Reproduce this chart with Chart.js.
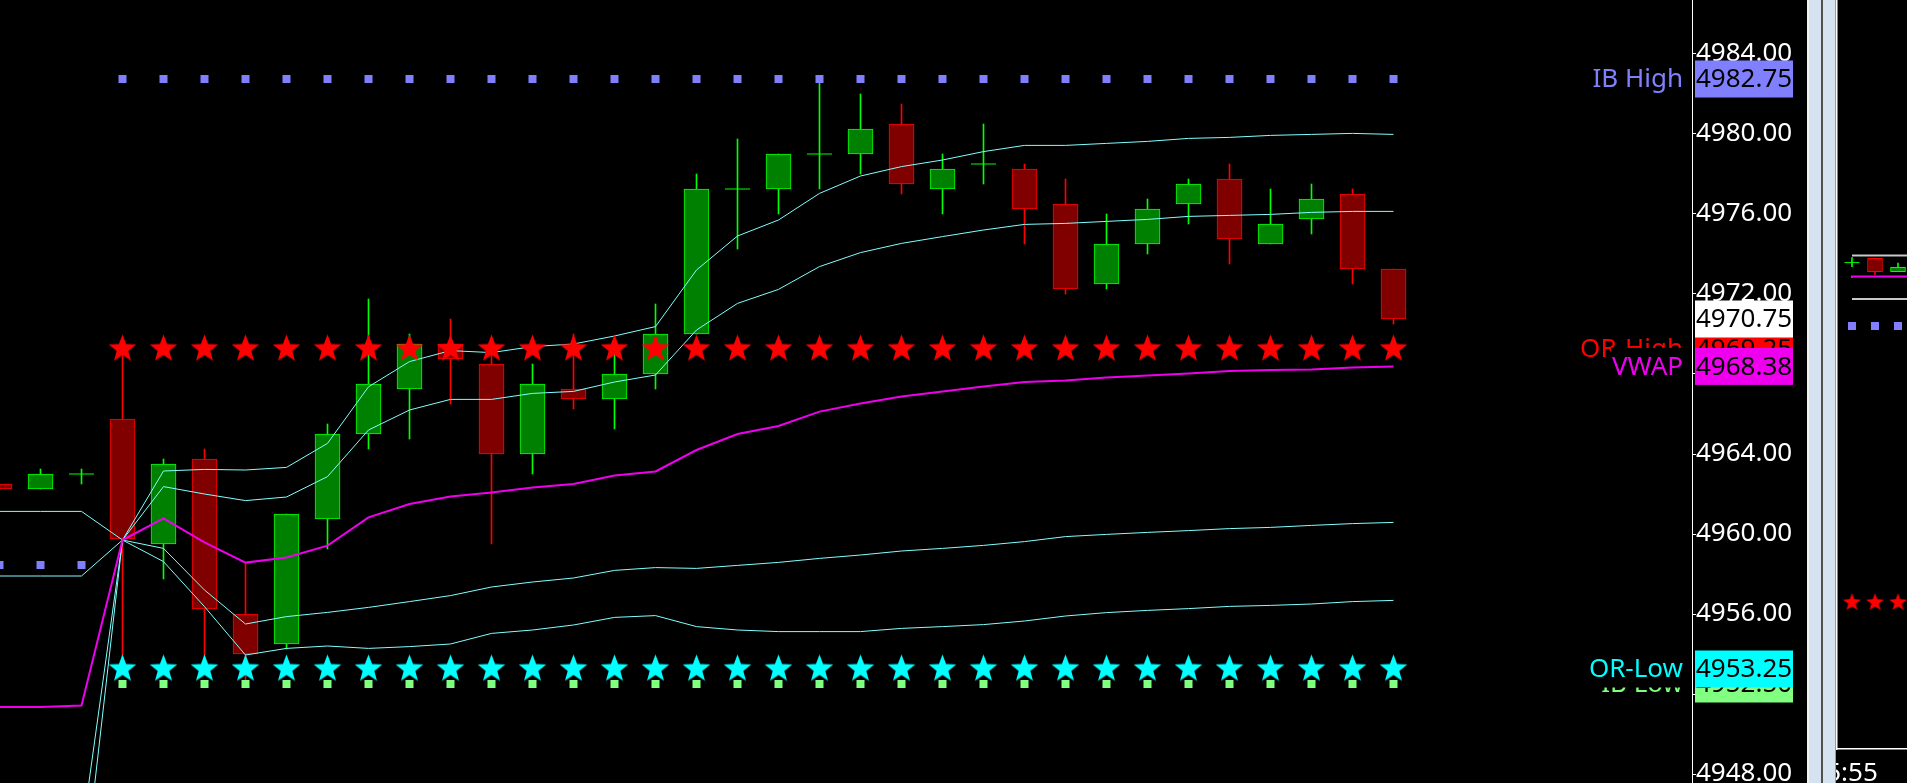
<!DOCTYPE html>
<html>
<head>
<meta charset="utf-8">
<script src="https://cdn.jsdelivr.net/npm/chart.js@4.4.1/dist/chart.umd.min.js"></script>
<style>
html,body{margin:0;padding:0;background:#000;overflow:hidden;width:1907px;height:783px}
#main{position:absolute;left:0;top:0;width:1807px;height:783px}
#mini{position:absolute;left:1836px;top:0;width:71px;height:783px}
.sb{position:absolute;top:0;height:783px}
</style>
</head>
<body>
<div id="main"><canvas id="c1"></canvas></div>
<div id="mini"><canvas id="c2"></canvas></div>
<div class="sb" style="left:1807px;width:2px;background:#f2f2f2"></div>
<div class="sb" style="left:1809px;width:12px;background:#d5e3f1"></div>
<div class="sb" style="left:1821px;width:2px;background:#505050"></div>
<div class="sb" style="left:1823px;width:12px;background:#d5e3f1"></div>
<div class="sb" style="left:1835px;width:1px;background:#9a9a9a"></div>
<script>
// ---------------- data (main panel) ----------------
const barIndex = [-3,-2,-1,0,1,2,3,4,5,6,7,8,9,10,11,12,13,14,15,16,17,18,19,20,21,22,23,24,25,26,27,28,29,30,31];
const openP  = [4962.50,4962.25,4963.00,4965.75,4959.50,4963.75,4956.00,4954.50,4960.75,4965.00,4967.25,4969.50,4968.50,4964.00,4967.25,4966.75,4968.00,4970.00,4977.25,4977.25,4979.00,4979.00,4980.50,4977.25,4978.50,4978.25,4976.50,4972.50,4974.50,4976.50,4977.75,4974.50,4975.75,4977.00,4973.25];
const highP  = [4962.50,4963.25,4963.25,4969.25,4963.75,4964.25,4958.50,4961.00,4965.50,4971.75,4970.00,4970.75,4969.00,4968.50,4970.00,4969.00,4971.50,4978.00,4979.75,4979.00,4982.75,4982.00,4981.50,4979.00,4980.50,4978.50,4977.75,4976.00,4976.75,4977.75,4978.50,4977.25,4977.50,4977.25,4973.25];
const lowP   = [4962.25,4962.25,4962.50,4953.25,4957.75,4953.50,4952.50,4954.25,4959.25,4964.25,4964.75,4966.50,4959.50,4963.00,4966.25,4965.25,4967.25,4970.00,4974.25,4976.00,4977.25,4978.00,4977.00,4976.00,4977.50,4974.50,4972.00,4972.25,4974.00,4975.50,4973.50,4974.50,4975.00,4972.50,4970.50];
const closeP = [4962.25,4963.00,4963.00,4959.75,4963.50,4956.25,4954.00,4961.00,4965.00,4967.50,4969.50,4968.75,4964.00,4967.50,4966.75,4968.00,4970.00,4977.25,4977.25,4979.00,4979.00,4980.25,4977.50,4978.25,4978.50,4976.25,4972.25,4974.50,4976.25,4977.50,4974.75,4975.50,4976.75,4973.25,4970.75];

const vwap   = [4951.35,4951.35,4951.42,4959.70,4960.78,4959.58,4958.57,4958.83,4959.42,4960.83,4961.50,4961.87,4962.08,4962.33,4962.50,4962.92,4963.13,4964.20,4965.00,4965.40,4966.12,4966.53,4966.87,4967.12,4967.37,4967.60,4967.67,4967.82,4967.92,4968.03,4968.15,4968.20,4968.23,4968.33,4968.38];
const upper2 = [4961.13,4961.13,4961.13,4959.70,4963.15,4963.23,4963.20,4963.33,4964.53,4967.36,4968.62,4969.17,4969.07,4969.37,4969.50,4969.90,4970.37,4973.20,4974.90,4975.70,4977.03,4977.90,4978.37,4978.70,4979.12,4979.43,4979.43,4979.53,4979.63,4979.78,4979.83,4979.93,4979.98,4980.03,4979.98];
const upper1 = [4957.90,4957.90,4957.90,4959.70,4962.37,4962.00,4961.67,4961.85,4962.87,4965.20,4966.20,4966.73,4966.73,4967.03,4967.13,4967.60,4967.95,4970.20,4971.53,4972.23,4973.37,4974.07,4974.53,4974.87,4975.20,4975.48,4975.53,4975.63,4975.73,4975.88,4975.93,4975.98,4976.08,4976.13,4976.13];
const lower1 = [4944.90,4944.90,4944.90,4959.70,4959.28,4957.20,4955.50,4955.87,4956.08,4956.33,4956.62,4956.92,4957.35,4957.60,4957.80,4958.18,4958.32,4958.28,4958.43,4958.58,4958.78,4958.95,4959.15,4959.28,4959.43,4959.62,4959.87,4959.98,4960.08,4960.17,4960.27,4960.33,4960.43,4960.52,4960.58];
const lower2 = [4941.70,4941.70,4941.70,4959.70,4958.62,4956.37,4953.95,4954.28,4954.40,4954.28,4954.37,4954.50,4955.03,4955.20,4955.45,4955.83,4955.92,4955.37,4955.20,4955.12,4955.12,4955.12,4955.28,4955.37,4955.47,4955.65,4955.90,4956.07,4956.18,4956.27,4956.38,4956.43,4956.50,4956.62,4956.68];

const priorIndex  = [-3,-2,-1];
const priorIbHigh = [4958.45,4958.45,4958.45];
const sessionIndex = [0,1,2,3,4,5,6,7,8,9,10,11,12,13,14,15,16,17,18,19,20,21,22,23,24,25,26,27,28,29,30,31];

const IB_HIGH = 4982.75, IB_LOW = 4952.50, OR_HIGH = 4969.25, OR_LOW = 4953.25, LAST_PRICE = 4970.75;
const yTickValues = [4948,4952,4956,4960,4964,4968,4972,4976,4980,4984];

// ---------------- data (small right panel) ----------------
const miniIndex = [0,1,2];
const miniOpen  = [4973.57,4973.78,4973.12];
const miniHigh  = [4973.82,4973.78,4973.55];
const miniLow   = [4973.37,4972.97,4973.12];
const miniClose = [4973.57,4973.12,4973.33];
const miniLineIndex = [0,1,2,3];
const miniVwap  = [4972.80,4972.87,4972.87,4972.87];
const miniHighLine = [4973.92,4973.92,4973.92,4973.92];
const miniLowLine  = [4971.75,4971.75,4971.75,4971.75];
const MINI_IB_HIGH = 4970.40, MINI_OR_HIGH = 4956.58;
const miniTimeLabels = ['5:55'];

// ---------------- helpers ----------------
const FONT = 'Noto Sans';
Chart.defaults.font.family = FONT;
const UP_FILL='#008000', UP_LINE='#00ff00', DN_FILL='#800000', DN_LINE='#ff0000';

function makeStar(color, R, ratio){
  const s = Math.ceil(2*R)+2;
  const c = document.createElement('canvas'); c.width = s; c.height = s;
  const g = c.getContext('2d'); g.fillStyle = color; g.beginPath();
  for (let k=0;k<10;k++){
    const r = (k%2) ? R*ratio : R;
    const a = -Math.PI/2 + k*Math.PI/5;
    g.lineTo(s/2 + r*Math.cos(a), s/2 + r*Math.sin(a));
  }
  g.closePath(); g.fill();
  return c;
}
const redStar = makeStar('#ff0000', 14.5, 0.42);
const cyanStar = makeStar('#00ffff', 14.5, 0.42);
const miniRedStar = makeStar('#ff0000', 9.3, 0.42);

function candleSets(xs, o, h, l, c, bodyW, crossR, ord){
  const wick = xs.map((x,k)=>({x, y:[l[k], h[k]]}));
  const wickCol = xs.map((x,k)=> c[k] >= o[k] ? UP_LINE : DN_LINE);
  const bodyIdx = xs.map((x,k)=>k).filter(k=> o[k] !== c[k]);
  const body = bodyIdx.map(k=>({x: xs[k], y:[o[k], c[k]]}));
  const bodyFill = bodyIdx.map(k=> c[k] > o[k] ? UP_FILL : DN_FILL);
  const bodyLine = bodyIdx.map(k=> c[k] > o[k] ? UP_LINE : DN_LINE);
  const doji = xs.map((x,k)=>k).filter(k=> o[k] === c[k]).map(k=>({x: xs[k], y: o[k]}));
  return [
    {type:'bar', data: wick, backgroundColor: wickCol, borderWidth:0, grouped:false, barThickness:1, maxBarThickness:1, order: ord+2},
    {type:'bar', data: body, backgroundColor: bodyFill, borderColor: bodyLine, borderWidth:1, borderSkipped:false, grouped:false, barThickness:bodyW, maxBarThickness:bodyW, order: ord+1},
    {type:'scatter', data: doji, pointStyle:'line', pointRadius: crossR, borderColor: UP_LINE, pointBorderColor: UP_LINE, pointBorderWidth:1, order: ord}
  ];
}
function lineSet(xs, ys, color, width, ord, extra){
  return Object.assign({type:'line', data: xs.map((x,k)=>({x, y: ys[k]})), borderColor: color, borderWidth: width, pointRadius:0, tension:0, fill:false, order: ord}, extra||{});
}
function pointSet(xs, yv, style, radius, color, ord){
  return {type:'scatter', data: xs.map((x,k)=>({x, y: Array.isArray(yv) ? yv[k] : yv})), pointStyle: style, pointRadius: radius, backgroundColor: color, borderWidth:0, pointBorderWidth:0, order: ord};
}

// price boxes at the right of the axis
const levelLabels = [
  {name:'IB Low',  value: IB_LOW,  box:'#80ff80', color:'#80ff80'},
  {name:'OR-Low',  value: OR_LOW,  box:'#00ffff', color:'#00ffff'},
  {name:'OR-High', value: OR_HIGH, box:'#ff0000', color:'#ff0000'},
  {name:'',        value: LAST_PRICE, box:'#ffffff', color:'#ffffff'},
  {name:'VWAP',    value: vwap[vwap.length-1], box:'#ee00ee', color:'#ee00ee'},
  {name:'IB High', value: IB_HIGH, box:'#8080ff', color:'#8080ff'}
];
const levelPlugin = {
  id:'levels',
  afterDraw(chart){
    const ctx = chart.ctx, ys = chart.scales.y, ax = chart.chartArea.right;
    const h = 37;
    ctx.save();
    ctx.font = '26px "' + FONT + '"';
    ctx.textBaseline = 'middle';
    for (const L of levelLabels){
      const py = ys.getPixelForValue(L.value);
      ctx.fillStyle = L.box;
      ctx.fillRect(ax+3, py-h/2, 98, h);
      ctx.fillStyle = '#000';
      ctx.textAlign = 'left';
      ctx.fillText(L.value.toFixed(2), ax+4, py+1);
      if (L.name){
        const w = ctx.measureText(L.name).width;
        ctx.fillStyle = '#000';
        ctx.fillRect(ax-9-w-1, py-h/2, w+9, h);
        ctx.fillStyle = L.color;
        ctx.textAlign = 'right';
        ctx.fillText(L.name, ax-9, py+1);
      }
    }
    ctx.restore();
  }
};

// ---------------- main chart ----------------
const mainSets = [].concat(
  candleSets(barIndex, openP, highP, lowP, closeP, 25, 12.5, 20),
  [
    lineSet(barIndex, upper2, '#80ffff', 1, 6),
    lineSet(barIndex, upper1, '#80ffff', 1, 6),
    lineSet(barIndex, lower1, '#80ffff', 1, 6),
    lineSet(barIndex, lower2, '#80ffff', 1, 6),
    lineSet(barIndex, vwap, '#ee00ee', 2, 5),
    pointSet(priorIndex, priorIbHigh, 'rect', 5.66, '#8080ff', 4),
    pointSet(sessionIndex, IB_HIGH, 'rect', 5.66, '#8080ff', 4),
    pointSet(sessionIndex, IB_LOW, 'rect', 5.66, '#80ff80', 4),
    pointSet(sessionIndex, OR_HIGH, redStar, 14, '#ff0000', 3),
    pointSet(sessionIndex, OR_LOW, cyanStar, 14, '#00ffff', 3)
  ]
);

new Chart(document.getElementById('c1'), {
  type:'bar',
  data:{datasets: mainSets},
  options:{
    responsive:true, maintainAspectRatio:false, animation:false, events:[],
    layout:{padding:0, autoPadding:false},
    plugins:{legend:{display:false}, tooltip:{enabled:false}, title:{display:false}},
    scales:{
      x:{type:'linear', display:false, offset:false, min:-2.98780, max:38.28049},
      y:{
        type:'linear', position:'right', min:4947.55, max:4986.70,
        afterBuildTicks: s => { s.ticks = yTickValues.map(v=>({value:v})); },
        afterFit: s => { s.width = 115; s.paddingTop = 0; s.paddingBottom = 0; },
        ticks:{color:'#ffffff', font:{family:FONT, size:26}, padding:0, autoSkip:false, callback: v => Number(v).toFixed(2)},
        grid:{drawOnChartArea:false, drawTicks:true, tickLength:4, color:'#ffffff'},
        border:{display:true, color:'#ffffff', width:1}
      }
    }
  },
  plugins:[levelPlugin]
});

// ---------------- small right panel ----------------
const miniSets = [].concat(
  [
    lineSet(miniLineIndex, miniHighLine, '#c8c8c8', 2, 9),
    lineSet(miniLineIndex, miniLowLine, '#c8c8c8', 2, 9)
  ],
  candleSets(miniIndex, miniOpen, miniHigh, miniLow, miniClose, 15, 7.5, 10),
  [
    lineSet(miniLineIndex, miniVwap, '#ee00ee', 2, 5, {stepped:'after'}),
    pointSet(miniIndex, MINI_IB_HIGH, 'rect', 5.66, '#8080ff', 4),
    pointSet(miniIndex, MINI_OR_HIGH, miniRedStar, 9, '#ff0000', 3)
  ]
);

new Chart(document.getElementById('c2'), {
  type:'bar',
  data:{datasets: miniSets},
  options:{
    responsive:true, maintainAspectRatio:false, animation:false, events:[],
    layout:{padding:0, autoPadding:false},
    plugins:{legend:{display:false}, tooltip:{enabled:false}},
    scales:{
      x:{
        type:'linear', position:'bottom', offset:false, min:-0.65217, max:2.39130,
        afterBuildTicks: s => { s.ticks = [{value:0}]; },
        afterFit: s => { s.height = 34; s.paddingLeft = 0; s.paddingRight = 0; },
        ticks:{color:'#ffffff', font:{family:FONT, size:26}, padding:5, maxRotation:0, autoSkip:false, callback:(v,i)=> miniTimeLabels[i]},
        grid:{drawOnChartArea:false, tickLength:4, color:'#ffffff'},
        border:{display:true, color:'#ffffff', width:1.5}
      },
      y:{
        type:'linear', position:'left', min:4949.25, max:4986.70,
        afterFit: s => { s.width = 1; s.paddingTop = 0; s.paddingBottom = 0; },
        ticks:{display:false},
        grid:{display:false},
        border:{display:true, color:'#ffffff', width:1.5}
      }
    }
  }
});
</script>
</body>
</html>
